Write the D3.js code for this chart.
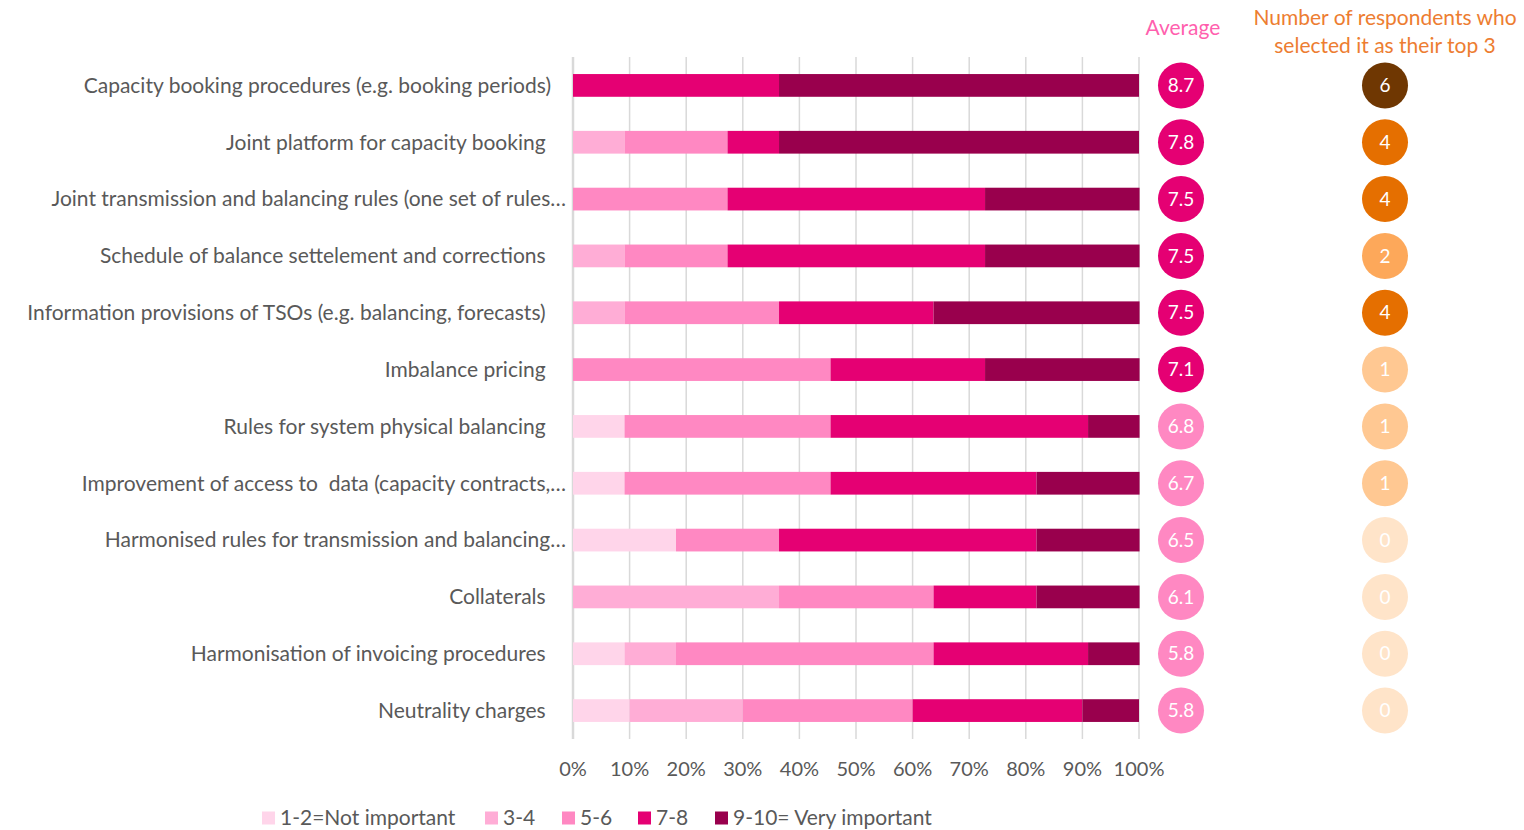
<!DOCTYPE html>
<html>
<head>
<meta charset="utf-8">
<script src="https://cdn.jsdelivr.net/npm/d3@7"></script>
<style>
  html, body { margin: 0; padding: 0; background: #fff; }
  svg { display: block; font-family: Lato, "Open Sans", sans-serif; }
</style>
</head>
<body>
<div id="chart"></div>
<script>
// Categories, top to bottom
const categories = [
  "Capacity booking procedures (e.g. booking periods)",
  "Joint platform for capacity booking ",
  "Joint transmission and balancing rules (one set of rules…",
  "Schedule of balance settelement and corrections ",
  "Information provisions of TSOs (e.g. balancing, forecasts) ",
  "Imbalance pricing ",
  "Rules for system physical balancing ",
  "Improvement of access to  data (capacity contracts,…",
  "Harmonised rules for transmission and balancing…",
  "Collaterals ",
  "Harmonisation of invoicing procedures ",
  "Neutrality charges "
];

const seriesNames = ["1-2=Not important", "3-4", "5-6", "7-8", "9-10= Very important"];
const seriesColors = ["#ffd5ea", "#ffadd6", "#ff88c2", "#e50073", "#99004d"];

// share of respondents (%) per rating band
const notImportant = [0, 0, 0, 0, 0, 0, 9.1, 9.1, 18.2, 0, 9.1, 10];
const rating34 = [0, 9.1, 0, 9.1, 9.1, 0, 0, 0, 0, 36.4, 9.1, 20];
const rating56 = [0, 18.2, 27.3, 18.2, 27.3, 45.5, 36.4, 36.4, 18.2, 27.3, 45.5, 30];
const rating78 = [36.4, 9.1, 45.5, 45.5, 27.3, 27.3, 45.5, 36.4, 45.5, 18.2, 27.3, 30];
const veryImportant = [63.6, 63.6, 27.3, 27.3, 36.4, 27.3, 9.1, 18.2, 18.2, 18.2, 9.1, 10];

const averages = [8.7, 7.8, 7.5, 7.5, 7.5, 7.1, 6.8, 6.7, 6.5, 6.1, 5.8, 5.8];
const topThreeCounts = [6, 4, 4, 2, 4, 1, 1, 1, 0, 0, 0, 0];

const xTicks = [0, 10, 20, 30, 40, 50, 60, 70, 80, 90, 100];

const W = 1524, H = 830;
const svg = d3.select("#chart").append("svg")
  .attr("width", W).attr("height", H);

const x = d3.scaleLinear().domain([0, 100]).range([573, 1139]);
const y = d3.scaleBand().domain(categories).range([57, 739])
  .paddingInner(0.6).paddingOuter(0.3);

const textColor = "#595959";
const fs = 21;

// gridlines
svg.append("g")
  .selectAll("line")
  .data(xTicks)
  .join("line")
  .attr("x1", d => x(d)).attr("x2", d => x(d))
  .attr("y1", 57).attr("y2", 739)
  .attr("stroke", "#d9d9d9")
  .attr("stroke-width", d => d === 0 ? 2.5 : 1.5);

// stacked bars
const table = categories.map((c, i) => ({
  cat: c,
  "1-2=Not important": notImportant[i],
  "3-4": rating34[i],
  "5-6": rating56[i],
  "7-8": rating78[i],
  "9-10= Very important": veryImportant[i]
}));
const stacked = d3.stack().keys(seriesNames)(table);
const color = d3.scaleOrdinal().domain(seriesNames).range(seriesColors);

svg.append("g")
  .selectAll("g")
  .data(stacked)
  .join("g")
  .attr("fill", s => color(s.key))
  .selectAll("rect")
  .data(s => s)
  .join("rect")
  .attr("x", d => x(d[0]))
  .attr("y", d => y(d.data.cat))
  .attr("width", d => Math.max(0, x(d[1]) - x(d[0])))
  .attr("height", y.bandwidth());

// category labels
svg.append("g")
  .selectAll("text")
  .data(categories)
  .join("text")
  .attr("x", d => d.endsWith("…") ? 566 : 551)
  .attr("y", d => y(d) + y.bandwidth() / 2)
  .attr("dy", "0.35em")
  .attr("text-anchor", "end")
  .attr("fill", textColor)
  .attr("font-size", fs)
  .style("white-space", "pre")
  .text(d => d);

// x axis labels
svg.append("g")
  .selectAll("text")
  .data(xTicks)
  .join("text")
  .attr("x", d => x(d))
  .attr("y", 769)
  .attr("dy", "0.35em")
  .attr("text-anchor", "middle")
  .attr("fill", textColor)
  .attr("font-size", 20)
  .text(d => d + "%");

// average circles
const avgX = 1181, cntX = 1385, r = 23;
const avgG = svg.append("g").selectAll("g")
  .data(categories)
  .join("g")
  .attr("transform", (d, i) => `translate(${avgX},${y(d) + y.bandwidth() / 2})`);
avgG.append("circle")
  .attr("r", r)
  .attr("fill", (d, i) => averages[i] >= 7 ? "#e50073" : "#ff88c2");
avgG.append("text")
  .attr("text-anchor", "middle")
  .attr("dy", "0.35em")
  .attr("fill", "#fff")
  .attr("font-size", 19)
  .text((d, i) => averages[i].toFixed(1));

// top 3 count circles
const countColor = d3.scaleOrdinal()
  .domain([0, 1, 2, 4, 6])
  .range(["#ffe4c9", "#ffc892", "#fda85a", "#e56f00", "#6f3702"]);
const cntG = svg.append("g").selectAll("g")
  .data(categories)
  .join("g")
  .attr("transform", (d, i) => `translate(${cntX},${y(d) + y.bandwidth() / 2})`);
cntG.append("circle")
  .attr("r", r)
  .attr("fill", (d, i) => countColor(topThreeCounts[i]));
cntG.append("text")
  .attr("text-anchor", "middle")
  .attr("dy", "0.35em")
  .attr("fill", "#fff")
  .attr("font-size", 19)
  .text((d, i) => topThreeCounts[i]);

// column headers
svg.append("text")
  .attr("x", 1183).attr("y", 28).attr("dy", "0.35em")
  .attr("text-anchor", "middle")
  .attr("fill", "#ff5fae")
  .attr("font-size", fs)
  .text("Average");
const hdr = svg.append("text")
  .attr("text-anchor", "middle")
  .attr("fill", "#ed7d31")
  .attr("font-size", fs);
hdr.append("tspan").attr("x", 1385).attr("y", 18).attr("dy", "0.35em")
  .text("Number of respondents who");
hdr.append("tspan").attr("x", 1385).attr("y", 46).attr("dy", "0.35em")
  .text("selected it as their top 3");

// legend
const legendX = [262, 485, 562, 638, 715];
const leg = svg.append("g").selectAll("g")
  .data(seriesNames)
  .join("g")
  .attr("transform", (d, i) => `translate(${legendX[i]},818)`);
leg.append("rect")
  .attr("x", 0).attr("y", -6.5)
  .attr("width", 13).attr("height", 13)
  .attr("fill", d => color(d));
leg.append("text")
  .attr("x", 18).attr("dy", "0.35em")
  .attr("fill", textColor)
  .attr("font-size", fs)
  .text(d => d);
</script>
</body>
</html>
